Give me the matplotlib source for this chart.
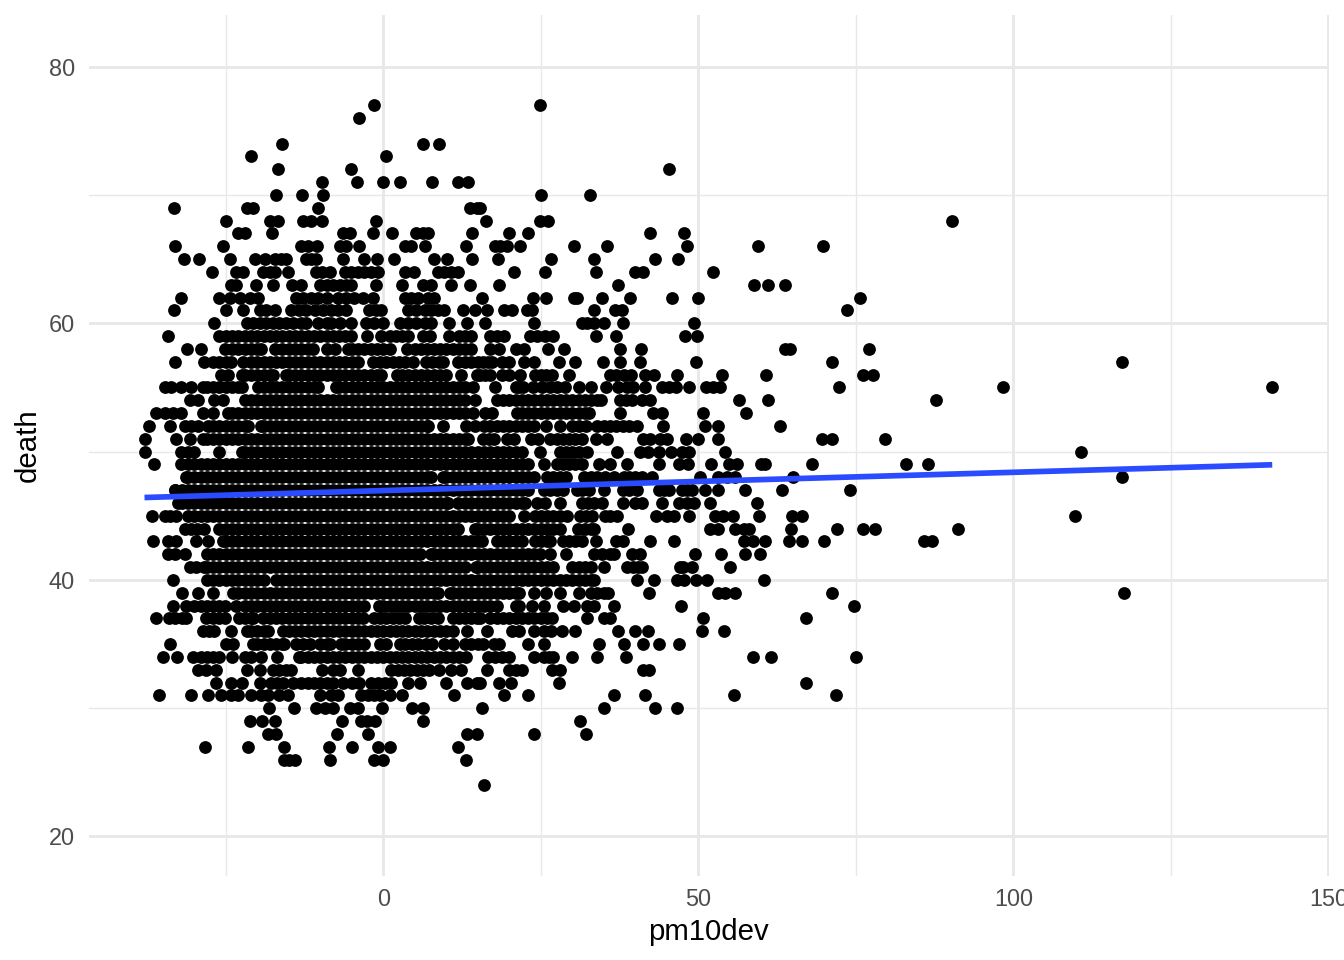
import matplotlib
matplotlib.use("Agg")
import matplotlib.pyplot as plt

plt.rcParams['font.family'] = ['Liberation Sans', 'DejaVu Sans']

# pm10dev values, one list per death count
d24 = [16]
d26 = [-15.7, -14.9, -14, -8.4, -1.5, -0.1, 13.2]
d27 = [-28.3, -21.4, -15.7, -8.6, -4.9, -0.8, 1.1, 11.9]
d28 = [-18.3, -17.1, -7.4, -2.4, 13.3, 14.8, 23.9, 32.1]
d29 = [-21.1, -19.3, -17.2, -6.6, -3.5, -2.6, -1.3, 6.3, 31.3]
d30 = [-18.2, -14.2, -10.6, -9.3, -8, -5.3, -4, -0.2, 4.6, 6.3, 15.6, 35.1, 43.1, 46.7]
d31 = [-35.6, -30.5, -27.9, -25.7, -24.1, -23.1, -21, -19.4, -18.3, -16.5, -15.1, -10.1, -8.3, -7.2,
       -3.5, -2.5, -1.5, -0.5, 1, 2.9, 11.2, 19.2, 22.9, 36.6, 41.6, 55.6, 71.9]
d32 = [-26.5, -24.1, -22.5, -19.6, -17.8, -16.8, -15.9, -14.3, -13, -12, -11, -10, -9, -8, -6.4, -5, -3.8,
       -1.9, -0.8, 0.3, 1.3, 3.9, 5.8, 10, 13.3, 14.8, 15.4, 18.4, 20.2, 27.9, 67.1]
d33 = [-29.4, -28.1, -26.6, -21.7, -19.6, -17.5, -16.5, -15.5, -14.6, -9.8, -8, -6.8, -4, 1.3, 2.3, 3.3,
       4.3, 5.3, 6.3, 7.3, 8.9, 10.8, 12.3, 16.4, 19.9, 21, 22, 26.8, 28.1, 41.3, 42.1]
d34 = [-35, -32.7, -30.2, -29, -28, -27, -26, -24, -22, -21, -19.4, -16.8,
       -13.4, -13, -12, -11, -10, -9, -8, -7, -6, -5, -4, -3, -2, -1, 0, 1, 2, 3, 4, 5, 6, 7, 8, 9, 10, 11, 12, 13.2,
       16.7, 17.8, 18.8, 19.9, 24, 25.5, 26.3, 27, 29.9, 33.9, 38.5, 58.7, 61.6, 75]
d35 = [-33.8, -24.9, -23.8, -20.7, -20, -19, -18, -17, -16, -15.7, -13.8, -12.8, -11.7, -10.1, -9, -8.4,
       -6.7, -6, -5, -4, -3, -0.6, 0.5, 2.7, 3.5, 4.5, 5.5, 6.8, 7.8, 9.7, 11.1, 12.9, 14, 15,
       15.9, 17.6, 18.4, 23, 25.5, 34.3, 38.2, 41.3, 43.8, 47]
d36 = [-28.6, -27.7, -26.8, -24.1, -21.7, -21, -20, -19, -18.3,
       -15.9, -15, -14, -13, -12, -11, -10, -9, -8, -7, -6, -5, -4, -3, -2, -1, 0, 1, 2, 3, 4, 5, 6, 7, 8, 9, 10, 11.1,
       13.3, 16.5, 20.5, 21.5, 23.9, 25.5, 26.6, 28.4, 30.5, 37.3, 39.9, 42, 50.6, 54.1]
d37 = [-36.1, -34, -33, -32, -31.3, -28.2, -27, -26, -25.2, -22.9, -22, -21, -20.7,
       -19.1, -18, -17, -16, -15, -14, -13, -12, -11, -10, -9, -8, -7, -6, -5, -4, -3.2,
       -1.4, -0.5, 0.5, 1.5, 2.5, 3.4, 5.7, 6.5, 7.5, 8.7, 11.1, 12, 13, 14, 14.8, 15.4,
       17, 18, 19, 20, 21, 22, 23, 24, 25, 26, 26.8, 32.3, 35, 36, 50.7, 67.1]
d38 = [-33.4, -31.3, -30, -29, -28, -27, -26, -25.2,
       -23.4, -22, -21, -20, -19, -18, -17, -16, -15, -14, -13, -12, -11, -10, -9, -8, -7, -6, -5, -4, -3,
       -0.7, 0, 1, 2, 3, 4, 5, 6, 7, 8, 9, 10, 11, 12, 13, 14, 15,
       16, 17, 18, 21, 21.5, 23.6, 25.5, 28.6, 30.3, 32.4, 33.4, 36.7, 47.3, 74.7]
d39 = [-31.9, -29.4, -27, -23.9, -23, -22, -21, -20, -19, -18, -17, -16, -15, -14, -13, -12, -11, -10, -9, -8,
       -7, -6, -5, -4, -3, -2, -1, 0, 1, 2, 3, 4, 5, 6, 7, 8, 8.7, 10.6, 11, 12, 13, 14, 15,
       16, 17, 18, 19, 20, 21, 21.5, 23.9, 25.9, 28, 31, 33, 34, 35, 35.6, 42.2, 53.2, 54.2, 55.9, 71.2, 117.6]
d40 = [-33.3, -28, -27, -26, -25, -24, -23, -22, -21, -20, -19,
       -17, -16, -15, -14, -13, -12, -11, -10, -9, -8, -7, -6, -5, -4, -3, -2, -1, 0, 1, 2, 3, 4, 5, 6, 7, 8, 9, 10,
       11, 12, 13, 14, 15, 16, 17, 18, 19, 20, 21, 22, 23, 24, 25, 26, 27, 28, 29, 30, 31, 32, 33, 33.5,
       40.2, 42.9, 46.6, 47.7, 49.6, 51.4, 60.5]
d41 = [-30.7, -29.7, -28.4, -28, -27, -26, -25, -24, -23, -22, -21, -20, -19, -18, -17, -16, -15, -14, -13, -12,
       -11, -10, -9, -8, -7, -6, -5, -4, -3, -2, -1, 0, 1, 2, 3, 4, 5, 6, 7, 8, 9, 10, 11, 12, 12.9, 14.7, 15,
       16, 17, 18, 19, 20, 21, 22, 23, 24, 25, 26, 27, 30, 31, 32, 33, 35, 38.7, 39.6, 40.5, 41.1, 47.1, 47.6, 49, 55]
d42 = [-34.2, -33, -31.5, -28, -27, -26, -25, -24, -23, -22, -21, -20, -19, -18, -17, -16, -15, -14, -13, -12,
       -11, -10, -9, -8, -7, -6, -5, -4, -3, -2, -1, 0, 1, 2, 3, 4, 5, 5.8, 7.6, 8, 9, 10, 11, 12, 13, 14, 15,
       16, 17, 18, 19, 20, 21, 22, 23, 24, 24.8, 26.4, 29, 33.4, 34.7, 36, 36.6, 39.5, 40.8, 49.5, 53.6, 57.4, 59.8]
d43 = [-36.6, -34.2, -32.9, -29.7, -27.8, -25.4, -25, -24, -23, -22, -21, -20, -19, -18, -17, -16, -15, -14, -13,
       -12, -11, -10, -9, -8, -7, -6, -5, -4, -3, -2, -1, 0, 1, 2, 3, 4, 5, 6, 7, 8, 9, 10, 11, 12, 13, 14, 15,
       15.7, 18, 19, 20, 21, 22, 24.1, 25, 26, 26.5, 28.6, 29.5, 30.5, 31.6, 33.7, 37, 38, 42.3, 46.1,
       57.2, 58.7, 60.6, 64.4, 66.5, 69.9, 85.9, 87.1]
d44 = [-31.5, -30.5, -29.5, -28.4, -26.1, -25, -24, -23, -22, -21, -20, -19, -18, -17, -16, -15, -14, -13, -12,
       -11, -10, -9, -8, -7, -6, -5, -4, -3, -2, -1, 0, 1, 2, 3, 4, 5, 6, 7, 8, 9, 10, 11, 11.9, 14.6, 15,
       16, 17, 18, 19, 20, 21, 22, 23, 24, 25, 26, 27, 28, 30.9, 32, 33, 33.5, 38.8, 51.9, 53.1, 55.9, 57.2, 58,
       64.7, 72, 76.2, 78, 91.3]
d45 = [-36.7, -34.7, -33.8, -32.9, -31, -30, -29, -28, -27, -26, -25, -24, -23, -22, -21, -20, -19, -18, -17, -16,
       -15, -14, -13, -12, -11, -10, -9, -8, -7, -6, -5, -4, -3, -2, -1, 0, 1, 2, 3, 4, 5, 6, 7, 8, 9, 10, 11, 12, 13, 14, 15,
       16, 17, 18, 19, 20, 22.3, 24.1, 25, 26, 27, 28, 29.2, 31.3, 32.2, 33.1, 35.2, 36, 37.1, 43.3, 45, 46.1, 48.5,
       52.7, 54, 55.5, 59.6, 64.9, 66.5, 109.8]
d46 = [-32.6, -32, -31, -30, -29, -28, -27, -26, -25, -24, -23, -22, -21, -20, -19, -18, -17, -16, -15, -14, -13,
       -12, -11, -10, -9, -8, -7, -6, -5, -4, -3, -2, -1, 0, 1, 2, 3, 4, 5, 6, 7, 8, 9, 10, 10.3, 11.9, 13, 14, 15,
       16, 17, 18, 19, 20, 21, 22, 22.5, 24.4, 25.7, 28, 31.5, 32.5, 33.5, 34.7, 38, 40, 41, 44.2, 46.9, 48.2, 49.3, 51.9, 59.3]
d47 = [-33.1, -33, -32, -31, -30, -29, -28, -27, -26, -25, -24, -23, -22, -21, -20, -19, -18, -17, -16, -15, -14, -13,
       -12, -11, -10, -9, -8, -7, -6, -5, -4, -3, -2, -1, 0, 1, 2, 3, 4, 5, 6, 7, 8, 9, 10, 11, 12, 13, 14, 15,
       16, 17, 18, 19, 20, 21, 22, 23, 25.5, 26.5, 27.5, 28.6, 30.7, 31.5, 32.6, 35.1, 38, 39, 40.3, 43.7, 44.5, 45.3,
       47.4, 48.2, 49, 51.1, 53.2, 57.4, 63.3, 74.1]
d48 = [-31.3, -31, -30, -29, -28, -27, -26, -25, -24, -23, -22, -21, -20, -19, -18, -17, -16, -15, -14, -13, -12,
       -11, -10, -9, -8, -7, -6, -5, -4, -3, -2, -1, 0, 1, 2, 3, 4, 5, 6, 7, 7.6, 9.5, 10, 11, 12, 13, 14, 15,
       16, 17, 18, 19, 20, 21, 22, 23, 24, 26, 27, 28, 29, 31.8, 33, 34, 35.2, 36.6, 38.2, 39, 40, 41, 42.6, 50.2,
       53.2, 54.6, 55.9, 65, 117.3]
d49 = [-36.4, -32.1, -31, -30, -29, -28, -27, -26, -25, -24, -23, -22, -21, -20, -19, -18, -17, -16, -15, -14, -13,
       -12, -11, -10, -9, -8, -7, -6, -5, -4, -3, -2, -1, 0, 1, 2, 3, 4, 5, 6, 7, 8, 9, 10, 11, 12, 13, 14, 15,
       16, 17, 18, 19, 20, 21, 22, 23, 25.5, 27.5, 28.5, 29.5, 30.5, 31.5, 34.2, 36, 38.7, 43.7, 46.9, 48.3, 52,
       54.8, 56.1, 60, 60.6, 68, 83, 86.5]
d50 = [-37.8, -32.1, -31, -30, -26, -22.5, -22, -21, -20, -19, -18, -17, -16, -15, -14, -13, -12, -11, -10, -9, -8,
       -7, -6, -5, -4, -3, -2, -1, 0, 1, 2, 3, 4, 5, 6, 7, 8, 9, 10, 11, 12, 13, 14, 15,
       16, 17, 18, 19, 20, 21, 22, 24.9, 28, 29, 30, 31, 32.3, 37.1, 40.8, 42, 43.7, 45.6, 47.4, 48.5, 54.2, 110.8]
d51 = [-37.9, -32.9, -30.7, -28.6, -28, -27, -26, -25, -24, -23, -22, -21, -20, -19, -18, -17, -16, -15, -14, -13,
       -12, -11, -10, -9, -8, -7, -6, -5, -4, -3, -2, -1, 0, 1, 2, 3, 4, 5, 6, 7, 8, 9, 10, 11, 12, 13, 13.4,
       15.9, 16.8, 17.5, 19.6, 20.7, 23.5, 24.5, 26.5, 27.5, 28.5, 29.5, 30.5, 31.5, 33.7, 35.5, 41.3, 42.4, 44, 45,
       48, 50, 53.1, 69.7, 71.2, 79.7]
d52 = [-37.2, -33.8, -31.5, -30.5, -29.4, -27.8, -27, -26, -25, -24, -23, -22, -21.5, -19.4, -19, -18, -17, -16, -15,
       -14, -13, -12, -11, -10, -9, -8, -7, -6, -5, -4, -3, -2, -1, 0, 1, 2, 3, 4, 5, 6, 7, 7.1, 9.5, 13.2, 14.5,
       16, 17, 18, 19, 20, 21, 22, 23, 24, 25.9, 28.1, 30, 31, 32.1, 34, 35, 36, 37, 38, 39, 40.3, 44.4, 51, 53.2, 63]
d53 = [-36, -34.7, -33.4, -32.1, -28.6, -27, -24.7, -24, -23, -22, -21, -20, -19, -18, -17, -16, -15, -14, -13, -12,
       -11, -10, -9, -8, -7, -6, -5, -4, -3, -2, -1, 0, 1, 2, 3, 4, 5, 6, 7, 8, 9, 10, 11, 12, 13, 14.2,
       16.2, 17.3, 21.2, 22, 23, 24, 25, 26, 27, 28, 29, 30, 31, 32, 32.6, 37.6, 42.8, 44.2, 50.8, 57.5]
d54 = [-30.7, -29.4, -26.8, -25.4, -22, -21, -20, -19, -18, -17, -16, -15, -14, -13, -12, -11, -10, -9, -8, -7, -6,
       -5, -4, -3, -2, -1, 0, 1, 2, 3, 4, 5, 6, 7, 8, 9, 10, 11, 12, 12.9, 14.6,
       18, 19, 20, 21, 22, 23, 24, 25, 26, 27, 28, 29, 30, 31, 32, 33, 34, 34.6, 37.6, 38.6, 39.5, 41.1, 42.4, 56.5, 61, 87.8]
d55 = [-34.7, -33.7, -32.1, -30.5, -28.6, -28, -27, -26, -25, -24, -23, -22.5, -19.9, -19, -18, -17, -16, -15, -14,
       -13, -12, -11, -10.4, -7.5, -7, -6, -5, -4, -3, -2, -1, 0, 1, 2, 3, 4, 5, 6, 7, 8, 9, 10, 11, 12, 13, 14.2,
       17.8, 21, 21.6, 22.2, 23.8, 25.2, 26.5, 27.5, 28.9, 31.1, 33, 35.4, 37.3, 38.7, 39.7, 41.6, 44.2, 45.3, 46.5, 48.5,
       51.2, 52.4, 53.5, 72.4, 98.3, 141.1]
d56 = [-25.7, -24.7, -22.5, -22, -21, -20, -19, -18, -17.5, -15.4, -15, -14, -13, -12, -11, -10, -9, -8, -7, -6, -5,
       -4, -3, -2, -1, -0.3, 2.1, 3, 4, 5, 6, 7, 8, 9, 10, 12.3, 14.8,
       15.4, 16.2, 17, 18.8, 19.9, 21.7, 24.1, 25, 25.8, 26.8, 29.5, 36, 37, 38.2, 39.3, 41.6, 42.9, 46.7, 53.7, 60.7, 76.2, 77.7]
d57 = [-33.1, -28.4, -27, -26, -25, -24.1, -22.3, -21, -20, -19, -18, -17, -16, -15, -14, -13, -12, -11, -10, -9, -8,
       -7, -6, -5, -4, -1.6, -0.5, 0.5, 1.5, 2.5, 3.5, 4.7, 6.8, 7.8, 8.8, 9.5, 11.9, 13, 14, 15,
       15.9, 16.6, 17.3, 18.8, 19.9, 22.4, 24, 27.9, 30.5, 34.9, 37.6, 40.8, 49.7, 71.3, 117.3]
d58 = [-31.2, -28.9, -25.2, -24, -23, -22, -21, -20, -19.4, -17.2, -16, -15, -14, -13, -12, -11.2, -9, -7.7,
       -5.6, -5, -4, -3, -2, -1, 0, 1, 3.7, 5, 6, 7, 8, 9, 10, 11, 12, 13, 14,
       17, 18.3, 21, 22.3, 26.1, 28.7, 37.5, 40.9, 63.7, 64.5, 77.1]
d59 = [-34.2, -26, -25, -24, -23, -22, -21, -20, -19, -18, -17, -16, -15, -14, -13, -12, -11, -10, -9, -8, -7, -6,
       -5.1, -2.6, -0.3, 1, 2, 3, 3.9, 6.3, 7.4, 10.5, 12, 13, 14,
       17, 18, 19.1, 23.3, 24.4, 25.7, 27, 33.8, 36.9, 47.9, 49.8]
d60 = [-26.8, -21.7, -20.7, -19.6, -18.6, -17.5, -16.5, -15.4, -14.3, -13, -12.2, -10.4, -9, -8.3, -6.9, -5.2,
       -2.7, -1.4, -0.1, 2.6, 3.9, 5.2, 6.6, 7.6, 10.4, 13.3, 16.2, 23.9, 31.5, 32.3, 33.4, 35.1, 38.1, 49.3]
d61 = [-33.2, -25, -22.3, -19.6, -18.6, -17.2, -14.6, -13.3, -12.2, -10.9, -9.6, -8.3, -7.2, -5.9, -2.2, -1.1, -0.3,
       3.9, 5.2, 6.6, 7.6, 8.7, 9.7, 12.6, 14.5, 16.5, 19.1, 20.5, 22.8, 23.6, 33.5, 36.8, 37.9, 73.6]
d62 = [-32.1, -26.1, -24.4, -22.8, -21.2, -19.9, -13.8, -12.8, -11.4, -10.4, -9, -7.2, -5.9, -4.6, -3.2, -1.6,
       3.4, 4.4, 5.5, 7.1, 8.1, 15.7, 23.8, 25.9, 30.2, 30.8, 34.7, 39.2, 45.9, 50, 75.7]
d63 = [-24.1, -23.3, -20.2, -17.5, -14.5, -13, -10.1, -9, -8, -6.9, -5.9, -5.1, -1.1, 3, 6.3, 7.6, 10.7, 13.7,
       18.4, 37.3, 58.8, 61, 63.7]
d64 = [-27.2, -23.3, -22.3, -19.1, -18, -17.2, -15.1, -10.6, -9.8, -8.4, -6.1, -5.1, -4, -3, -1.9, -0.8,
       3.4, 4.8, 8.7, 9.7, 10.8, 11.9, 20.7, 25.6, 33.8, 39.9, 41.3, 52.4]
d65 = [-31.6, -29.2, -24.3, -20.4, -18.8, -17.2, -16.2, -15.4, -12.2, -11.4, -10.6, -6.4, -3, -1, 1.7, 8.1, 10.1,
       14.1, 18.2, 26.6, 33.4, 43.1, 46.8]
d66 = [-33, -25.5, -13, -12, -10.5, -6.9, -5.9, -3.8, 3.4, 4.4, 6.7, 13.1, 17.8, 18.6, 19.6, 21.7, 30.3, 35.5,
       48.2, 59.5, 69.8]
d67 = [-23.1, -22, -17.7, -6.4, -5.3, -1.7, 1.4, 5.2, 6.3, 7.1, 14.1, 20, 23, 42.3, 47.7]
d68 = [-25, -18, -16.7, -12.8, -11.4, -9.8, -1.1, 16.3, 24.8, 26.2, 90.2]
d69 = [-33.2, -21.7, -20.7, -10.3, 13.7, 14.8, 15.4]
d70 = [-17, -12.9, -9.6, 25.1, 32.8]
d71 = [-9.7, -4.1, -0.1, 2.6, 7.8, 11.9, 13.4]
d72 = [-16.7, -5.2, 45.4]
d73 = [-21, 0.4]
d74 = [-16, 6.3, 8.8]
d76 = [-3.9]
d77 = [-1.4, 24.8]

death_counts = [24, 26, 27, 28, 29, 30, 31, 32, 33, 34, 35, 36, 37, 38, 39, 40, 41, 42, 43, 44, 45, 46, 47, 48, 49,
                50, 51, 52, 53, 54, 55, 56, 57, 58, 59, 60, 61, 62, 63, 64, 65, 66, 67, 68, 69, 70, 71, 72, 73, 74, 76, 77]
rows = [d24, d26, d27, d28, d29, d30, d31, d32, d33, d34, d35, d36, d37, d38, d39, d40, d41, d42, d43, d44, d45, d46,
        d47, d48, d49, d50, d51, d52, d53, d54, d55, d56, d57, d58, d59, d60, d61, d62, d63, d64, d65, d66, d67, d68,
        d69, d70, d71, d72, d73, d74, d76, d77]

# linear fit drawn on top
fit_x = [-37.9, 141.1]
fit_y = [46.42, 48.97]

x_major = [0, 50, 100, 150]
x_minor = [-25, 25, 75, 125]
y_major = [20, 40, 60, 80]
y_minor = [30, 50, 70]

pm10dev = []
death = []
for d, row in zip(death_counts, rows):
    pm10dev += row
    death += [d] * len(row)

W, H = 1344, 960
fig = plt.figure(figsize=(W / 192, H / 192), dpi=192)
ax = fig.add_axes([88.5 / W, (H - 876) / H, (1329.3 - 88.5) / W, (876 - 14.7) / H])
ax.set_xlim(-46.79, 150.16)
ax.set_ylim(16.92, 84.05)

for s in ax.spines.values():
    s.set_visible(False)

ax.set_xticks(x_major)
ax.set_xticks(x_minor, minor=True)
ax.set_yticks(y_major)
ax.set_yticks(y_minor, minor=True)
ax.grid(which='major', color='#E8E8E8', lw=1.07)
ax.grid(which='minor', color='#E8E8E8', lw=0.53)
ax.set_axisbelow(True)
ax.tick_params(which='both', length=0)
ax.tick_params(axis='x', labelsize=8.8, labelcolor='#4D4D4D', pad=4.4)
ax.tick_params(axis='y', labelsize=8.8, labelcolor='#4D4D4D', pad=5.2)

ax.scatter(pm10dev, death, s=23, c='black', linewidths=0, zorder=3)
ax.plot(fit_x, fit_y, color='#2A4BFF', lw=2.13, solid_capstyle='butt', zorder=4)

ax.set_xlabel('pm10dev', fontsize=11, color='black', labelpad=2.8)
ax.set_ylabel('death', fontsize=11, color='black', labelpad=2.4)

fig.savefig('out.png', dpi=192, facecolor='white')
